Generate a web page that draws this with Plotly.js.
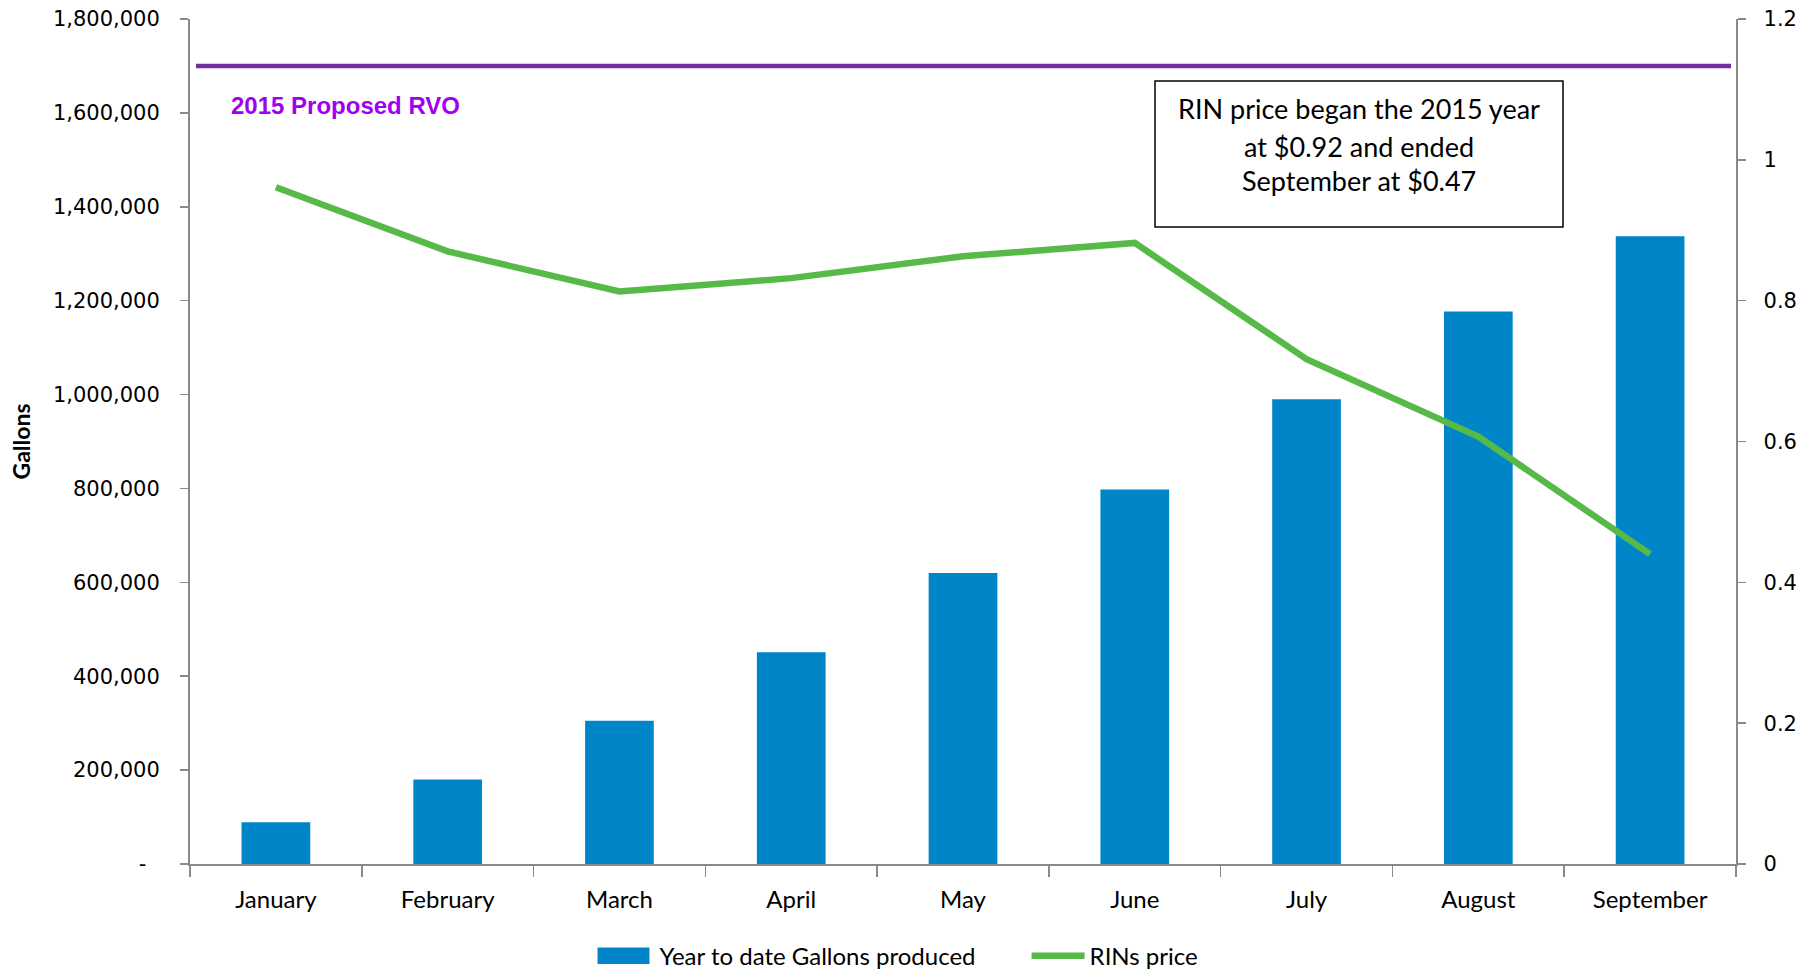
<!DOCTYPE html>
<html>
<head>
<meta charset="utf-8">
<script src="https://cdn.plot.ly/plotly-3.0.1.min.js"></script>
<style>
  html, body { margin: 0; padding: 0; background: #fff; }
  #chart { width: 1812px; height: 969px; }
</style>
</head>
<body>
<div id="chart"></div>
<script>
// ---- data ----
const months = ["January", "February", "March", "April", "May", "June", "July", "August", "September"];
const gallonsYTD = [89000, 180000, 305000, 451000, 620000, 798000, 990000, 1177000, 1337000];
const rinPrice = [0.961, 0.870, 0.813, 0.832, 0.863, 0.882, 0.717, 0.607, 0.440];
const proposedRVO = [1700000];
const leftTickVals = [0, 200000, 400000, 600000, 800000, 1000000, 1200000, 1400000, 1600000, 1800000];
const leftTickText = ["-\u00a0\u00a0", "200,000", "400,000", "600,000", "800,000", "1,000,000", "1,200,000", "1,400,000", "1,600,000", "1,800,000"];
const rightTickVals = [0, 0.2, 0.4, 0.6, 0.8, 1, 1.2];
const rightTickText = ["0", "0.2", "0.4", "0.6", "0.8", "1", "1.2"];
const noteLines = ["RIN price began the 2015 year", "at $0.92 and ended", "September at $0.47"];
const rvoLabel = "2015 Proposed RVO";

const axisGray = "#8a8a8a";
const barBlue = "#0086C8";

const traces = [
  {
    type: "bar",
    name: "Year to date Gallons produced",
    x: months,
    y: gallonsYTD,
    marker: { color: barBlue },
    yaxis: "y"
  },
  {
    type: "scatter",
    mode: "lines",
    name: "RINs price",
    x: months,
    y: rinPrice,
    line: { color: "#57B947", width: 6.5 },
    yaxis: "y2"
  }
];

const notePaperY = [0.8935, 0.8497, 0.8083];
const annotations = noteLines.map((t, i) => ({
  xref: "paper", yref: "paper",
  x: 0.756, y: notePaperY[i],
  xanchor: "center", yanchor: "middle",
  text: t, showarrow: false,
  font: { family: "Lato", size: 27, color: "#000" }
}));
annotations.push({
  xref: "paper", yref: "paper",
  x: 0.0253, y: 0.898, xanchor: "left", yanchor: "middle",
  text: "<b>" + rvoLabel + "</b>", showarrow: false,
  font: { family: "Liberation Sans", size: 24, color: "#A000F0" }
});

const layout = {
  width: 1812, height: 969,
  paper_bgcolor: "#fff", plot_bgcolor: "#fff",
  margin: { l: 190, r: 76, t: 19, b: 105, autoexpand: false },
  bargap: 0.6,
  showlegend: true,
  legend: {
    orientation: "h", x: 0.263, xanchor: "left", y: -0.109, yanchor: "middle",
    font: { family: "Lato", size: 24, color: "#000" },
    bgcolor: "rgba(0,0,0,0)",
    itemwidth: 53,
    entrywidth: 362
  },
  xaxis: {
    type: "category",
    range: [-0.5, 8.5],
    showline: true, linecolor: axisGray, linewidth: 2,
    ticks: "outside", ticklen: 11, tickcolor: axisGray, tickwidth: 1.5,
    tickson: "boundaries",
    tickfont: { family: "Lato", size: 24, color: "#000" },
    ticklabelstandoff: 13,
    showgrid: false, zeroline: false
  },
  yaxis: {
    range: [0, 1800000],
    tickvals: leftTickVals, ticktext: leftTickText,
    showline: true, linecolor: axisGray, linewidth: 2,
    ticks: "outside", ticklen: 8, tickcolor: axisGray, tickwidth: 1.5,
    tickfont: { family: "DejaVu Sans", size: 21, color: "#000" },
    ticklabelstandoff: 16,
    showgrid: false, zeroline: false,
    title: { text: "<b>Gallons</b>", font: { family: "Lato", size: 23, color: "#000" }, standoff: 16 }
  },
  yaxis2: {
    overlaying: "y", side: "right",
    range: [0, 1.2],
    tickvals: rightTickVals,
    ticktext: rightTickText.map(t => "\u00a0\u00a0" + t),
    showline: true, linecolor: axisGray, linewidth: 2,
    ticks: "outside", ticklen: 8, tickcolor: axisGray, tickwidth: 1.5,
    tickfont: { family: "DejaVu Sans", size: 21, color: "#000" },
    showgrid: false, zeroline: false
  },
  shapes: [
    {
      type: "line", xref: "paper", yref: "y",
      x0: 0.0039, x1: 0.9968, y0: proposedRVO[0], y1: proposedRVO[0],
      line: { color: "#7030A0", width: 4.5 }
    },
    {
      type: "rect", xref: "paper", yref: "paper",
      x0: 0.6242, x1: 0.8881, y0: 0.7538, y1: 0.9266,
      line: { color: "#000", width: 1.5 }, fillcolor: "rgba(255,255,255,0)"
    },
    {
      // widen the bar legend swatch to the reference's wide rectangle
      type: "rect", xref: "paper", yref: "paper",
      x0: 0.2636, x1: 0.2972, y0: -0.1183, y1: -0.0988,
      line: { width: 0 }, fillcolor: barBlue
    }
  ],
  annotations: annotations
};

Plotly.newPlot("chart", traces, layout, { displayModeBar: false, staticPlot: true });
</script>
</body>
</html>
